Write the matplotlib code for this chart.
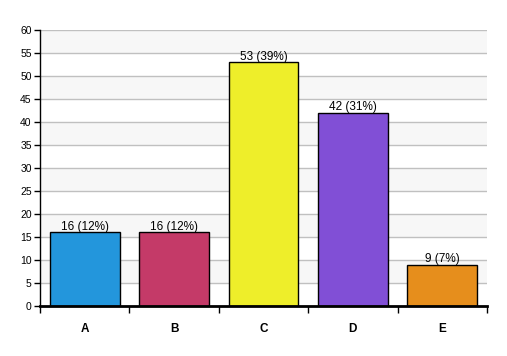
import numpy as np
import matplotlib.pyplot as plt

categories = ['A', 'B', 'C', 'D', 'E']
counts = [16, 16, 53, 42, 9]
percents = [12, 12, 39, 31, 7]
colors = ['#2396dc', '#c43a68', '#eeee2a', '#814fd6', '#e68e1c']

plt.rcParams['font.family'] = ['Liberation Sans', 'DejaVu Sans']

fig = plt.figure(figsize=(5.07, 3.56), dpi=100)
ax = fig.add_axes([40 / 507, 1 - 306 / 356, 447 / 507, 276 / 356])

x = np.arange(len(categories))
# alternating background bands
for lo in range(5, 60, 10):
    ax.axhspan(lo, lo + 5, color='#f7f7f7', zorder=0, lw=0)
for y in range(5, 61, 5):
    ax.axhline(y, color='#c0c0c0', lw=1, zorder=1)

ax.bar(x, counts, width=0.78, color=colors, edgecolor='black', linewidth=1, zorder=2)
for xi, c, p in zip(x, counts, percents):
    ax.text(xi, c - 0.1, f'{c} ({p}%)', ha='center', va='bottom', fontsize=8.5, zorder=3)

ax.set_xlim(-0.5, len(categories) - 0.5)
ax.set_ylim(0, 60)
ax.set_yticks(range(0, 61, 5))
ax.tick_params(axis='y', labelsize=7.5, length=4, width=1, pad=2)

ax.set_xticks(np.arange(-0.5, len(categories), 1))
ax.set_xticklabels([])
ax.set_xticks(x, minor=True)
ax.set_xticklabels(categories, minor=True, fontweight='bold', fontsize=8.5)
ax.tick_params(axis='x', which='major', length=5, width=1)
ax.tick_params(axis='x', which='minor', length=0, pad=12)

ax.spines['top'].set_visible(False)
ax.spines['right'].set_visible(False)
ax.spines['bottom'].set_linewidth(2)
ax.spines['left'].set_linewidth(1)
ax.set_facecolor('white')

fig.savefig('out.png', dpi=100)
